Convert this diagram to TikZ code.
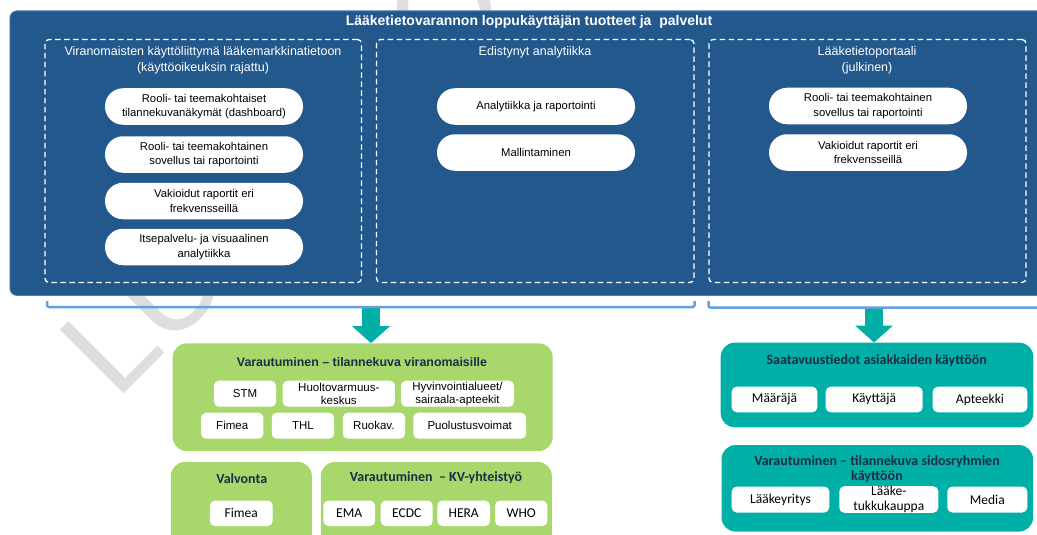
\documentclass[tikz,border=0pt]{standalone}
\usepackage{fontspec}
\setmainfont{Liberation Sans}
\newfontfamily\calibri{Carlito}
\usetikzlibrary{arrows.meta}

\definecolor{panelblue}{RGB}{35,88,141}
\definecolor{panelrim}{RGB}{74,126,182}
\definecolor{bracketblue}{RGB}{98,160,222}
\definecolor{lgreen}{RGB}{168,216,108}
\definecolor{tealfill}{RGB}{0,176,166}
\definecolor{navytext}{RGB}{30,44,70}
\definecolor{wmgray}{RGB}{222,222,222}

\begin{document}
\begin{tikzpicture}[x=1pt,y=-1pt,
  pill/.style={fill=white,rounded corners=18pt,minimum width=198pt,minimum height=36.5pt,inner sep=0pt,align=center,font=\fontsize{11.3}{14.3}\selectfont},
  grp/.style={draw=white,line width=1.3pt,dash pattern=on 5.5pt off 3.5pt,rounded corners=4pt,minimum height=243pt,inner sep=0pt},
  grphead/.style={text=white,align=center,font=\fontsize{12.5}{16}\selectfont},
  greenbox/.style={fill=lgreen,rounded corners=14pt,inner sep=0pt},
  tealbox/.style={fill=tealfill,rounded corners=14pt,inner sep=0pt},
  greentitle/.style={text=navytext,font=\bfseries\fontsize{12.4}{15}\selectfont},
  boxtitle/.style={text=navytext,align=center,font=\calibri\bfseries\fontsize{14}{15}\selectfont},
  item/.style={fill=white,rounded corners=5pt,inner sep=0pt,minimum height=26pt,align=center,font=\fontsize{11.5}{12.7}\selectfont},
  citem/.style={item,font=\calibri\fontsize{13.5}{15}\selectfont},
  bracket/.style={draw=bracketblue,line width=2.5pt,rounded corners=2pt},
  blockarrow/.style={draw=tealfill,line width=18pt,-{Triangle[width=37pt,length=17pt]}}
]
\clip (0,0) rectangle (1037,535);

% watermark
\node[rotate=45,anchor=base west,inner sep=0pt,text=wmgray,font=\fontsize{131}{131}\selectfont] (draftmark) at (116,402) {LUONNOS};

% top panel
\node[fill=panelblue,draw=panelrim,line width=0.8pt,rounded corners=7pt,minimum width=1035pt,minimum height=284.5pt,inner sep=0pt,anchor=north west] (panel) at (9.5,10.5) {};
\node[text=white,font=\bfseries\fontsize{14}{16}\selectfont] (paneltitle) at (529,21.5) {Lääketietovarannon loppukäyttäjän tuotteet ja~ palvelut};

\node[grp,minimum width=316.5pt] (grpAuth) at (203.25,161) {};
\node[grp,minimum width=317.5pt] (grpAna) at (535.25,161) {};
\node[grp,minimum width=317pt] (grpPortal) at (867.5,161) {};

\node[grphead] (headAuth) at (203,60.3) {Viranomaisten käyttöliittymä lääkemarkkinatietoon\\(käyttöoikeuksin rajattu)};
\node[grphead] (headAna) at (535,52.3) {Edistynyt analytiikka};
\node[grphead] (headPortal) at (867,60.3) {Lääketietoportaali\\(julkinen)};

\node[pill] (authDash) at (204,106.5) {Rooli- tai teemakohtaiset\\tilannekuvanäkymät (dashboard)};
\node[pill] (authApp) at (204,154.5) {Rooli- tai teemakohtainen\\sovellus tai raportointi};
\node[pill] (authStd) at (204,201) {Vakioidut raportit eri\\frekvensseillä};
\node[pill] (authSelf) at (204,247) {Itsepalvelu- ja visuaalinen\\analytiikka};

\node[pill] (anaReport) at (536,106.5) {Analytiikka ja raportointi};
\node[pill] (anaModel) at (536,152.5) {Mallintaminen};

\node[pill] (portalApp) at (868,106) {Rooli- tai teemakohtainen\\sovellus tai raportointi};
\node[pill] (portalStd) at (868,152.5) {Vakioidut raportit eri\\frekvensseillä};

% brackets and arrows
\coordinate (brL) at (371,307);
\coordinate (brR) at (874,307.5);

% green: authorities
\node[greenbox,minimum width=380pt,minimum height=107.7pt] (authBox) at (362.7,397.2) {};
\node[greentitle] (authBoxTitle) at (362,361.7) {Varautuminen – tilannekuva viranomaisille};
\node[item,minimum width=62pt] (stm) at (245,393.7) {STM};
\node[item,minimum width=112.3pt] (huolto) at (338.8,393.7) {Huoltovarmuus-\\keskus};
\node[item,minimum width=113pt] (hyvinvointi) at (457.5,393.7) {Hyvinvointialueet/\\sairaala-apteekit};
\node[item,minimum width=62.3pt] (fimea) at (232.2,425.7) {Fimea};
\node[item,minimum width=62.3pt] (thl) at (302.9,425.7) {THL};
\node[item,minimum width=62.3pt] (ruokav) at (373.9,425.7) {Ruokav.};
\node[item,minimum width=112.7pt] (puolustus) at (469.7,425.7) {Puolustusvoimat};

% green: supervision
\node[greenbox,minimum width=141pt,minimum height=90pt,anchor=north west] (valvonta) at (170.7,461.7) {};
\node[boxtitle] (valvontaTitle) at (241.7,478.3) {Valvonta};
\node[citem,minimum width=62.7pt,minimum height=25.5pt] (fimeaValv) at (241.3,513.3) {Fimea};

% green: international
\node[greenbox,minimum width=231pt,minimum height=90pt,anchor=north west] (kvBox) at (320.7,461.7) {};
\node[boxtitle] (kvTitle) at (436,478) {Varautuminen~ – KV-yhteistyö};
\node[citem,minimum width=51.7pt,minimum height=25.5pt] (ema) at (349.2,513.3) {EMA};
\node[citem,minimum width=52pt,minimum height=25.5pt] (ecdc) at (406.7,513.3) {ECDC};
\node[citem,minimum width=52.7pt,minimum height=25.5pt] (hera) at (463.7,513.3) {HERA};
\node[citem,minimum width=52.3pt,minimum height=25.5pt] (who) at (521.2,513.3) {WHO};

% teal: availability
\node[tealbox,minimum width=312.6pt,minimum height=84.6pt] (saatavuus) at (877,385) {};
\node[boxtitle] (saatavuusTitle) at (876.7,360.7) {Saatavuustiedot asiakkaiden käyttöön};
\node[citem,minimum width=85.6pt,minimum height=25.6pt] (maaraja) at (774.5,399.5) {Määräjä};
\node[citem,minimum width=97pt,minimum height=25.6pt] (kayttaja) at (874.2,399.5) {Käyttäjä};
\node[citem,minimum width=94.6pt,minimum height=25.6pt] (apteekki) at (980,399.5) {Apteekki};

% teal: stakeholders
\node[tealbox,minimum width=311.5pt,minimum height=86.5pt] (sidos) at (877.3,488.3) {};
\node[boxtitle] (sidosTitle) at (877,469.2) {Varautuminen – tilannekuva sidosryhmien\\käyttöön};
\node[citem,minimum width=97.6pt] (laakeyritys) at (780.5,499.5) {Lääkeyritys};
\node[citem,minimum width=99pt] (tukku) at (888.8,499.5) {Lääke-\\tukkukauppa};
\node[citem,minimum width=80pt] (media) at (987.3,499.5) {Media};

\draw[blockarrow] (brL) -- (brL |- authBox.north);
\draw[blockarrow] (brR) -- (brR |- saatavuus.north);
\draw[bracket] (47,301) -- (47,307) -- (694.5,307) -- (694.5,301);
\draw[bracket] (708.5,301) -- (708.5,307.5) -- (1045,307.5);
\end{tikzpicture}
\end{document}
